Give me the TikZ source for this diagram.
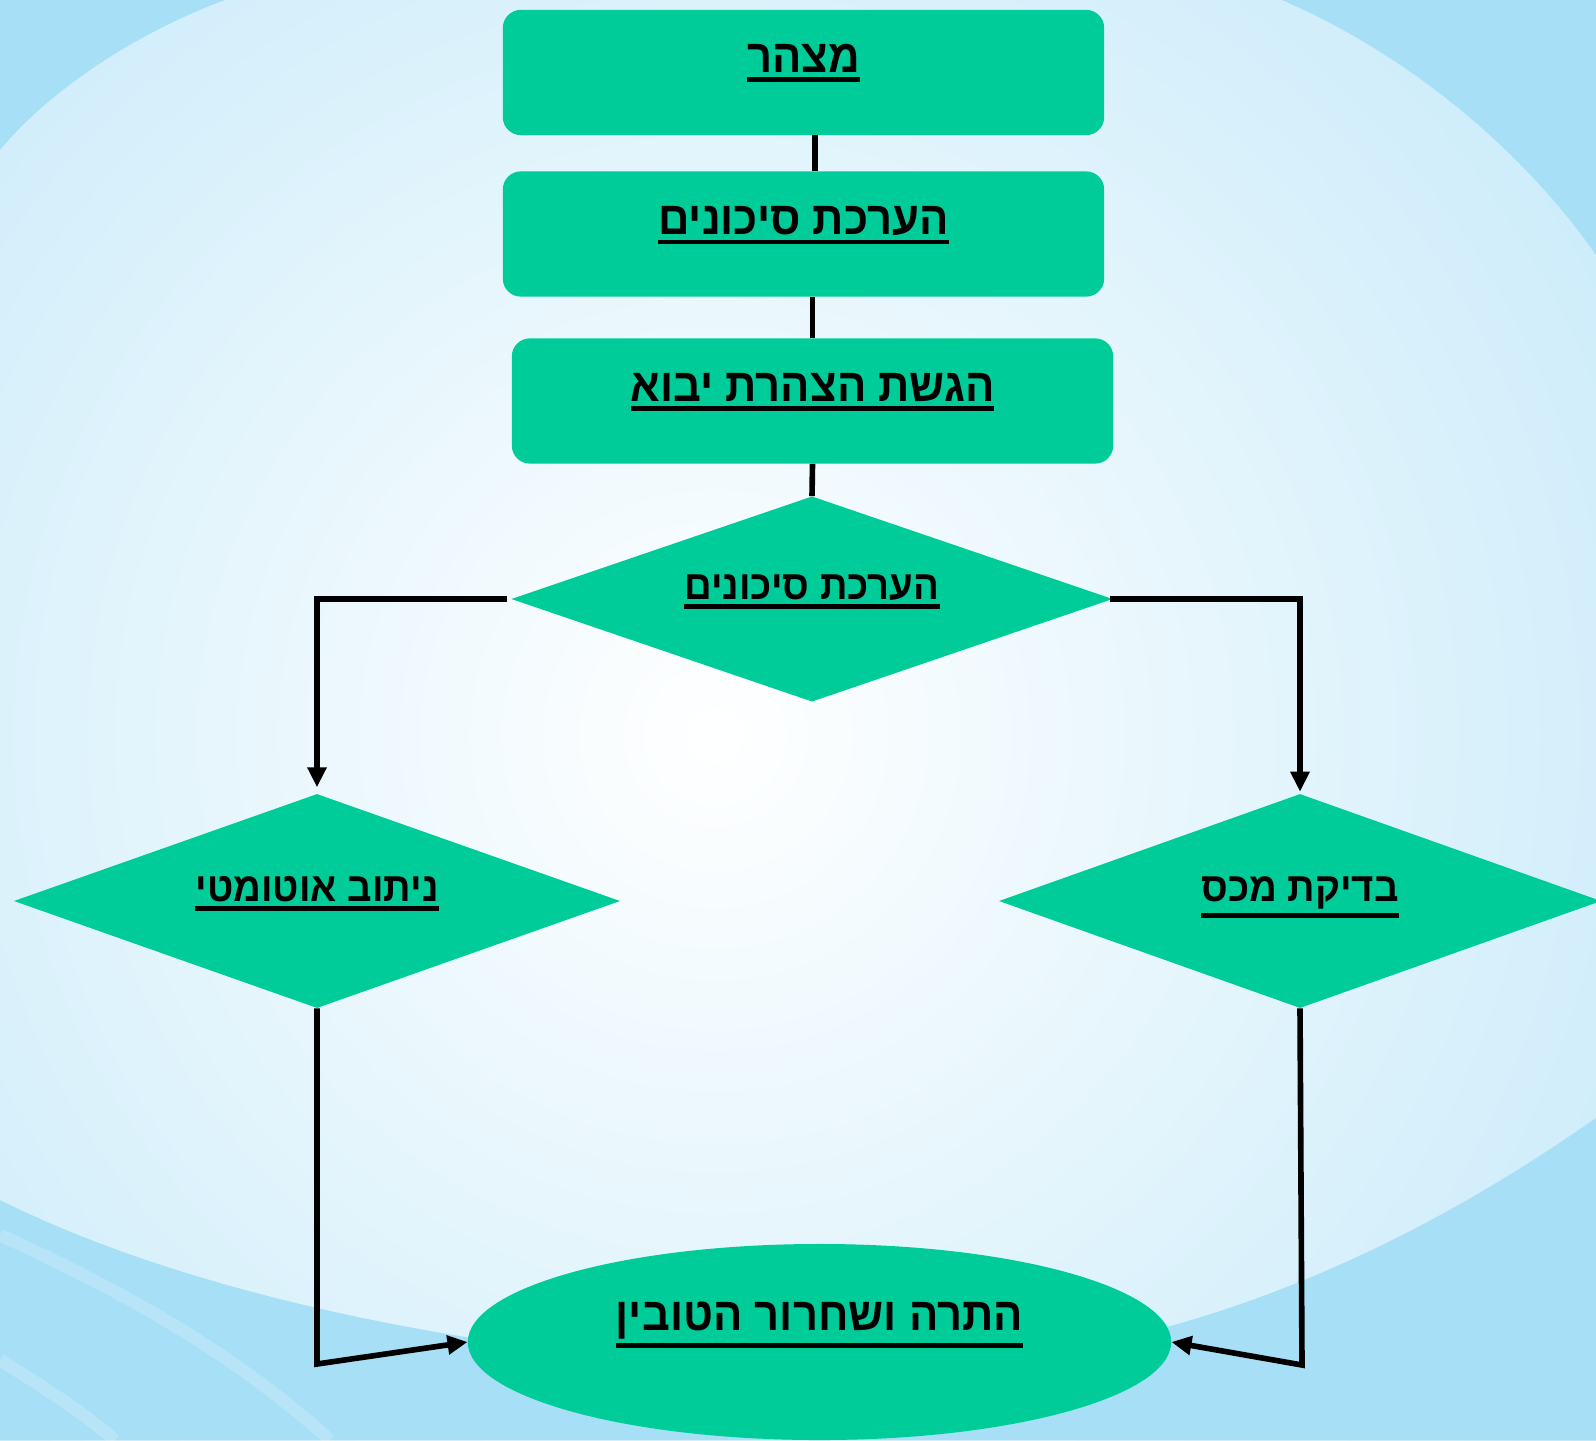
\documentclass[tikz,border=0pt]{standalone}
\usepackage{fontspec}
\usepackage{xcolor}
\usetikzlibrary{shapes.geometric}
\usetikzlibrary{arrows.meta}
\TeXXeTstate=1
\newfontfamily\hebfont[Script=Hebrew, FakeStretch=0.94]{Liberation Sans}
\definecolor{flow-green}{RGB}{0, 204, 153}
\definecolor{sky-edge}{RGB}{196, 233, 249}
\definecolor{sky-swoosh}{RGB}{166, 223, 246}
\newcommand{\hebline}[2]{\vtop{\hbox{\fontsize{#1}{#1}\hebfont\bfseries #2}\kern3.2pt\hrule height 3.4pt}}

\tikzset{
  stepbox/.style={rectangle, rounded corners=0.45cm, fill=flow-green, minimum width=15.03cm, minimum height=3.13cm, inner sep=0pt, text height=1cm, text depth=1cm},
  choice/.style={diamond, aspect=2.9, fill=flow-green, inner sep=0pt, text height=1cm, text depth=1cm},
  goal/.style={ellipse, fill=flow-green, inner sep=0pt, text height=1cm, text depth=1.6cm},
  link/.style={draw=black, line width=4pt},
  linkarrow/.style={link, -{Triangle[length=0.5cm, width=0.46cm]}}
}

\begin{document}
\begin{tikzpicture}[x=0.025cm, y=-0.025cm]
\useasboundingbox (0,0) rectangle (1596,1440);

\begin{scope}
\clip (0,0) rectangle (1596,1440);
\fill[sky-edge] (0,0) rectangle (1596,1440);
\shade[inner color=white, outer color=sky-edge] (715,735) circle (30cm);
\fill[sky-swoosh] (0,0) -- (225,0) .. controls (130,35) and (45,95) .. (0,150) -- cycle;
\fill[sky-swoosh] (1282,0) .. controls (1420,60) and (1530,160) .. (1596,255) -- (1596,0) -- cycle;
\fill[sky-swoosh] (0,1200) .. controls (260,1330) and (700,1390) .. (1000,1360)
  .. controls (1250,1330) and (1450,1220) .. (1596,1118) -- (1596,1440) -- (0,1440) -- cycle;
\draw[white, opacity=0.2, line width=9pt] (0,1235) .. controls (120,1290) and (230,1350) .. (330,1440);
\draw[white, opacity=0.2, line width=9pt] (0,1360) .. controls (40,1385) and (80,1410) .. (115,1440);
\end{scope}

\node[stepbox] (b1) at (803.5,72.5) {\hebline{33pt}{\beginR מצהר\endR}};
\node[stepbox] (b2) at (803.5,234) {\hebline{33pt}{\beginR הערכת סיכונים\endR}};
\node[stepbox] (b3) at (812.5,401) {\hebline{33pt}{\beginR הגשת הצהרת יבוא\endR}};

\node[choice, minimum width=15.03cm, minimum height=5.13cm] (d1) at (812,599) {\hebline{29pt}{\beginR הערכת סיכונים\endR}};
\node[choice, minimum width=15.15cm, minimum height=5.35cm] (dl) at (317,901) {\hebline{29pt}{\beginR ניתוב אוטומטי\endR}};
\node[choice, minimum width=15.05cm, minimum height=5.35cm] (dr) at (1300,901) {\hebline{29pt}{\beginR בדיקת מכס\endR}};

\node[goal, minimum width=17.58cm, minimum height=4.9cm] (el) at (819.5,1342) {\hebline{33pt}{\beginR התרה ושחרור הטובין\endR}};

\coordinate (cl) at (317,1364);
\coordinate (cr) at (1302,1365);

\draw[link] ([xshift=0.29cm]b1.south) -- ([xshift=0.29cm]b2.north);
\draw[link] (b3.north |- b2.south) -- (b3.north);
\draw[link] (b3.south) -- (d1.north);
\draw[linkarrow, shorten >=0.16cm] ([xshift=-0.1cm]d1.west) -| (dl.north);
\draw[linkarrow, shorten >=0.05cm] ([xshift=-0.08cm]d1.east) -| (dr.north);
\draw[linkarrow] (dl.south) -- (cl) -- (el.west);
\draw[linkarrow] (dr.south) -- (cr) -- (el.east);

\end{tikzpicture}
\end{document}
